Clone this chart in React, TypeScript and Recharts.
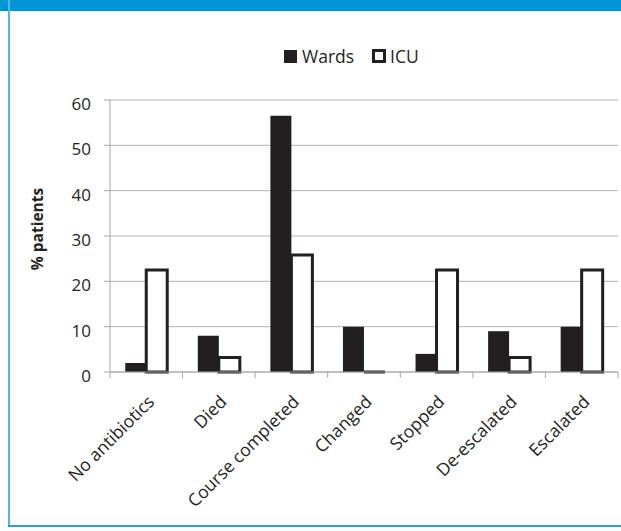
import React from "react";
import { BarChart, Bar, XAxis, YAxis, CartesianGrid, Label } from "recharts";

const categories = [
  "No antibiotics",
  "Died",
  "Course completed",
  "Changed",
  "Stopped",
  "De-escalated",
  "Escalated",
];
const wardsValues = [2, 8, 56.5, 10, 4, 9, 10];
const icuValues = [22.5, 3.2, 25.8, 0, 22.5, 3.2, 22.5];
const yTicks = [0, 10, 20, 30, 40, 50, 60];
const seriesNames = ["Wards", "ICU"];

const data = categories.map((c, i) => ({
  category: c,
  wards: wardsValues[i],
  icu: icuValues[i],
}));

const W = 621;
const H = 531;
const PLOT_LEFT = 110;
const PLOT_RIGHT = 618;
const BAND = (PLOT_RIGHT - PLOT_LEFT) / categories.length;
const INK = "#231f20";
const AXIS = "#a6a6a6";
const FONT = "'Open Sans', sans-serif";

const XTick = (props: any) => {
  const { x, y, payload, index } = props;
  const last = index === categories.length - 1;
  return (
    <g>
      <line x1={x - BAND / 2} x2={x - BAND / 2} y1={y} y2={y + 6} stroke={AXIS} />
      {last && <line x1={x + BAND / 2} x2={x + BAND / 2} y1={y} y2={y + 6} stroke={AXIS} />}
      <text
        transform={`translate(${x + 9},${y + 31}) rotate(-45)`}
        textAnchor="end"
        fontFamily={FONT}
        fontSize={17.5}
        fill={INK}
      >
        {payload.value}
      </text>
    </g>
  );
};

const YTick = (props: any) => {
  const { x, y, payload } = props;
  return (
    <text x={x} y={y + 10} textAnchor="end" fontFamily={FONT} fontSize={17} fill={INK}>
      {payload.value}
    </text>
  );
};

const OutlineBar = (props: any) => {
  const { x, y, width, height } = props;
  const h = Math.max(height || 0, 0);
  const d = `M${x},${y + h} L${x},${y} L${x + width},${y} L${x + width},${y + h} Z`;
  return <path d={d} fill="#ffffff" stroke={INK} strokeWidth={3} />;
};

export default function App() {
  return (
    <div
      style={{
        position: "absolute",
        left: 0,
        top: 0,
        width: W,
        height: H,
        background: "#ffffff",
        overflow: "hidden",
      }}
    >
      <div style={{ position: "absolute", left: 0, top: 0, width: W, height: 11, background: "#0096d6" }} />
      <div style={{ position: "absolute", left: 8, top: 0, width: 2, height: 527, background: "#55b6e6" }} />
      <div style={{ position: "absolute", left: 8, top: 525, width: W - 8, height: 2, background: "#2aa0dc" }} />

      <div
        style={{
          position: "absolute",
          left: 284,
          top: 46,
          display: "flex",
          alignItems: "center",
          fontFamily: FONT,
          fontSize: 17.5,
          color: INK,
          lineHeight: "20px",
        }}
      >
        <div style={{ width: 13, height: 13, background: INK }} />
        <span style={{ marginLeft: 5 }}>{seriesNames[0]}</span>
        <div
          style={{
            width: 14,
            height: 14,
            boxSizing: "border-box",
            border: `3px solid ${INK}`,
            background: "#fff",
            marginLeft: 18,
          }}
        />
        <span style={{ marginLeft: 4 }}>{seriesNames[1]}</span>
      </div>

      <div style={{ position: "absolute", left: 0, top: 0 }}>
        <BarChart
          width={W}
          height={H}
          data={data}
          margin={{ top: 100, right: W - PLOT_RIGHT, bottom: 59, left: 0 }}
          barCategoryGap="21%"
          barGap={0}
        >
          <CartesianGrid vertical={false} stroke="#b3b3b3" />
          <XAxis
            dataKey="category"
            height={100}
            axisLine={{ stroke: AXIS }}
            tickLine={false}
            tickSize={0}
            tickMargin={0}
            interval={0}
            tick={<XTick />}
          />
          <YAxis
            width={PLOT_LEFT}
            domain={[0, 60]}
            ticks={yTicks}
            interval={0}
            axisLine={{ stroke: AXIS }}
            tickLine={{ stroke: AXIS }}
            tickSize={6}
            tickMargin={13}
            tick={<YTick />}
          >
            <Label
              content={() => (
                <text
                  x={43}
                  y={229}
                  transform="rotate(-90,43,229)"
                  textAnchor="middle"
                  fontFamily={FONT}
                  fontWeight="bold"
                  fontSize={15.5}
                  fill={INK}
                >
                  % patients
                </text>
              )}
            />
          </YAxis>
          <Bar dataKey="wards" name={seriesNames[0]} fill={INK} isAnimationActive={false} />
          <Bar
            dataKey="icu"
            name={seriesNames[1]}
            fill="#ffffff"
            isAnimationActive={false}
            shape={<OutlineBar />}
          />
        </BarChart>
      </div>
    </div>
  );
}
